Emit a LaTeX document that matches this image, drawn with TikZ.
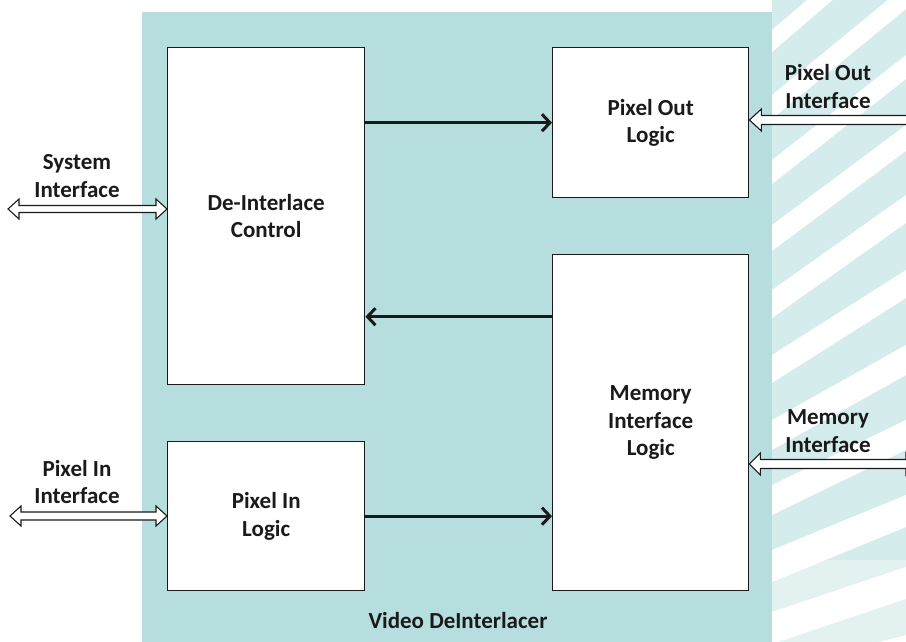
\documentclass[tikz,border=0pt]{standalone}
\usepackage{fontspec}
\setmainfont{Carlito}
\usetikzlibrary{arrows.meta,calc}
\definecolor{tealbg}{RGB}{183,222,222}
\definecolor{tealpale}{RGB}{212,236,235}
\definecolor{inkc}{RGB}{26,26,26}
\newcommand\hollowtwo[4]{% left, right, shaft half, head half
  \draw[hollow] let \p1=(#1), \p2=(#2) in
    (\x1,\y1) -- (\x1+11pt,\y1+#4) -- (\x1+11pt,\y1+#3) -- (\x2-11pt,\y1+#3)
    -- (\x2-11pt,\y1+#4) -- (\x2,\y1) -- (\x2-11pt,\y1-#4) -- (\x2-11pt,\y1-#3)
    -- (\x1+11pt,\y1-#3) -- (\x1+11pt,\y1-#4) -- cycle;}
\newcommand\hollowleft[4]{% tip (left), tail (right)
  \draw[hollow] let \p1=(#1), \p2=(#2) in
    (\x1,\y1) -- (\x1+12pt,\y1+#4) -- (\x1+12pt,\y1+#3) -- (\x2,\y1+#3)
    -- (\x2,\y1-#3) -- (\x1+12pt,\y1-#3) -- (\x1+12pt,\y1-#4) -- cycle;}
\begin{document}
\begin{tikzpicture}[x=1pt,y=-1pt,
  blk/.style={draw=inkc, line width=1.4pt, fill=white, rectangle, anchor=north west,
    inner sep=0pt, align=center, font=\bfseries\fontsize{23}{27.5}\selectfont, text=inkc},
  lbl/.style={align=center, font=\bfseries\fontsize{23}{27.5}\selectfont, text=inkc, inner sep=0pt},
  arr/.style={line width=3pt, draw=inkc, -{Straight Barb[length=8pt,width=17pt,line width=3pt]}},
  hollow/.style={draw=inkc, line width=1.1pt, fill=white, line join=miter}]
\useasboundingbox (0,0) rectangle (906,642);
\clip (0,0) rectangle (906,642);
% decorative striped background on the right
\fill[tealpale] (772,0) rectangle (906,642);
\foreach \y/\r/\w in {-40/120/20, 30/115/22, 95/110/24, 160/105/24, 225/100/26, 290/95/28, 355/85/28, 420/75/30, 485/65/30, 550/55/32, 612/45/32, 670/35/32}{
  \fill[white] (772,\y) -- (906,\y-\r) -- (906,\y-\r+\w) -- (772,\y+\w) -- cycle;
}
\fill[white,opacity=0.35] (772,560) rectangle (906,642);
% main block
\fill[tealbg] (142,12) rectangle (772,660);
\node[lbl] (title) at (458,621) {Video DeInterlacer};
% inner blocks
\node[blk, minimum width=197pt, minimum height=337pt] (dic) at (167,47) {De-Interlace\\Control};
\node[blk, minimum width=196pt, minimum height=150pt] (po) at (552,47) {Pixel Out\\Logic};
\node[blk, minimum width=196pt, minimum height=336pt] (mil) at (552,254) {Memory\\Interface\\Logic};
\node[blk, minimum width=197pt, minimum height=149pt] (pil) at (167,441) {Pixel In\\Logic};
% internal connectors
\draw[arr] (dic.east |- po.west) -- (po.west);
\draw[arr] ([yshift=106pt]mil.west) -- ([yshift=106pt]mil.west -| dic.east);
\draw[arr] (pil.east) -- (pil.east -| mil.west);
% external interfaces
\coordinate (sysL) at (8,209);
\coordinate (sysR) at (dic.west |- sysL);
\hollowtwo{sysL}{sysR}{3.5pt}{10pt}
\coordinate (pinL) at (10,516);
\coordinate (pinR) at (pil.west |- pinL);
\hollowtwo{pinL}{pinR}{4pt}{10pt}
\coordinate (poutR) at (930,120);
\coordinate (poutL) at (po.east |- poutR);
\hollowleft{poutL}{poutR}{4.5pt}{11pt}
\coordinate (memR) at (917,464);
\coordinate (memL) at (mil.east |- memR);
\hollowtwo{memL}{memR}{4.5pt}{11pt}
\node[lbl] (syslbl) at (77,176) {System\\Interface};
\node[lbl] (pinlbl) at (77,482) {Pixel In\\Interface};
\node[lbl] (poutlbl) at (828,86.5) {Pixel Out\\Interface};
\node[lbl] (memlbl) at (828,431) {Memory\\Interface};
\end{tikzpicture}
\end{document}
